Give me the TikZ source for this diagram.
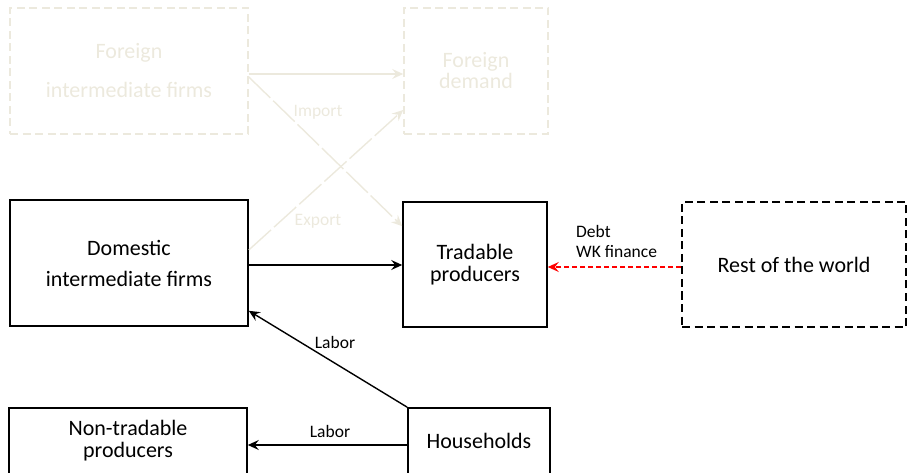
\documentclass[tikz,border=0pt]{standalone}
\usepackage{fontspec}
\setmainfont{Carlito}
\usetikzlibrary{arrows.meta}
\definecolor{beige}{HTML}{ECE9DD}
\definecolor{arrred}{HTML}{FF0000}
\begin{document}
\begin{tikzpicture}[x=1pt,y=-1pt,
  box/.style={draw, line width=1.6pt, minimum width=#1, inner sep=0pt, align=center, font=\fontsize{22}{22}\selectfont},
  dbox/.style={box=#1, dash pattern=on 8pt off 4.5pt},
  fbox/.style={dbox=#1, draw=beige, text=beige},
  lab/.style={font=\fontsize{17.5}{20}\selectfont, inner sep=0pt, align=left},
  arr/.style={line width=1.4pt, -{Stealth[length=11pt,width=10pt,inset=4pt]}},
  farr/.style={arr, draw=beige},
  fdarr/.style={farr, dash pattern=on 30pt off 4pt},
]
\useasboundingbox (0,0) rectangle (908,473);
\node[fbox=238pt, minimum height=126pt, font=\fontsize{22}{39}\selectfont] (fi) at (129,71) {Foreign\\intermediate firms};
\node[fbox=144pt, minimum height=126pt, font=\fontsize{22}{21}\selectfont] (fd) at (476,71) {Foreign\\demand};
\node[box=238pt, minimum height=126pt, font=\fontsize{22}{31}\selectfont] (di) at (129,263) {Domestic\\intermediate firms};
\node[box=144pt, minimum height=125pt] (tp) at (475,264.5) {Tradable\\producers};
\node[dbox=224pt, minimum height=125pt] (rw) at (794,264.5) {Rest of the world};
\node[box=238pt, minimum height=66pt] (nt) at (128,441) {Non-tradable\\producers};
\node[box=142pt, minimum height=66pt] (hh) at (479,441) {Households};

\draw[farr] ([yshift=-3pt]fi.east) -- ([yshift=-3pt]fd.west);
\draw[fdarr] ([yshift=-6pt]fi.east) -- ([yshift=-25pt]tp.north west);
\draw[fdarr] ([yshift=13pt]di.east) -- ([yshift=-39pt]fd.west);
\node[lab, text=beige] (imp) at (318,112) {Import};
\node[lab, text=beige] (exp) at (318,221) {Export};

\draw[arr] ([yshift=-2pt]di.east) -- ([yshift=-2pt]di.east -| tp.west);
\draw[arr, draw=arrred, dash pattern=on 5pt off 3pt] ([yshift=-2.5pt]rw.west) -- ([yshift=-2.5pt]rw.west -| tp.east);
\node[lab, anchor=west] (debt) at (576,241) {Debt\\WK finance};

\draw[arr] (hh.north west) -- ([yshift=16pt]di.south east);
\node[lab] (lab1) at (335,342) {Labor};
\draw[arr] ([yshift=-4pt]hh.west) -- ([yshift=-4pt]hh.west -| nt.east);
\node[lab] (lab2) at (330,431) {Labor};
\end{tikzpicture}
\end{document}
